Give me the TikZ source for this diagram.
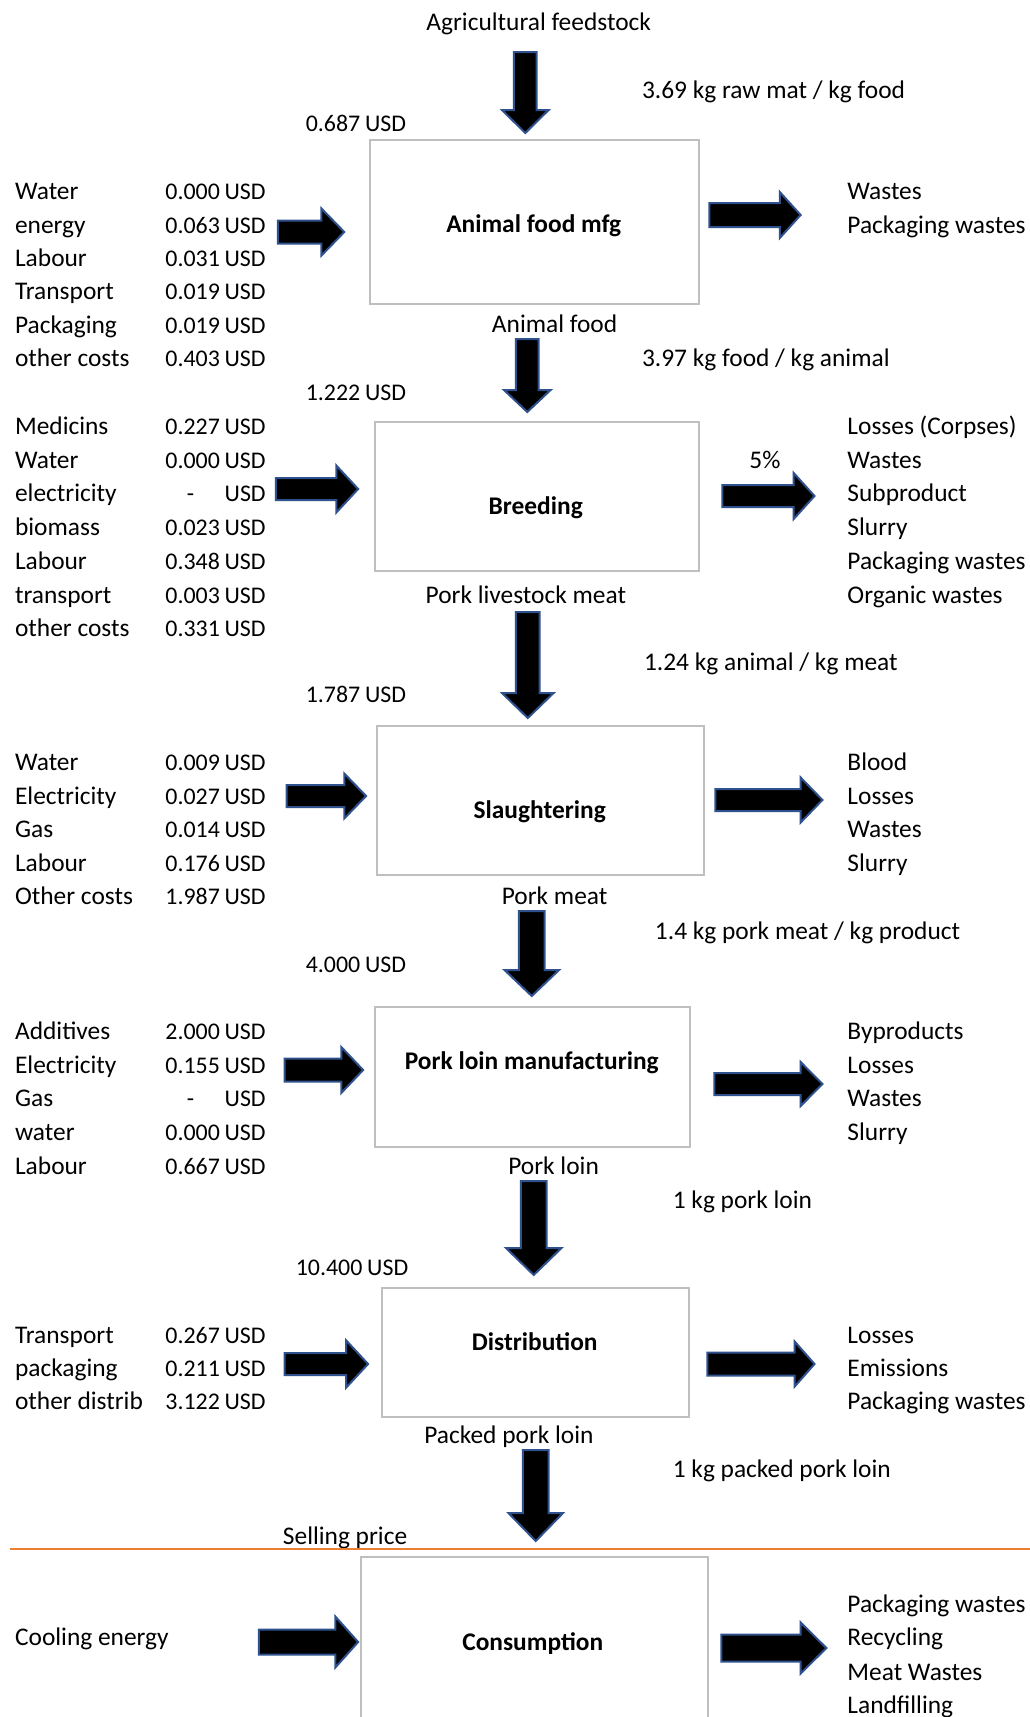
\documentclass[tikz,border=0pt]{standalone}
\usepackage{fontspec}
\setmainfont{Carlito}
\definecolor{boxgray}{HTML}{BFBFBF}
\definecolor{arrowblue}{HTML}{2F528F}
\definecolor{lineorange}{HTML}{ED7D31}
\tikzset{
  lbl/.style={inner sep=0pt, text height=16pt, text depth=0pt, font=\fontsize{25.4}{30}\selectfont},
  val/.style={inner sep=0pt, text height=16pt, text depth=0pt, font=\fontsize{23.9}{30}\selectfont},
  ttl/.style={inner sep=0pt, text height=16pt, text depth=0pt, font=\fontsize{25.4}{30}\selectfont\bfseries},
  procbox/.style={draw=boxgray, line width=2pt, fill=white, inner sep=0pt, anchor=north west},
  blk/.style={fill=black, draw=arrowblue, line width=2pt, line join=miter},
}
\newcommand\hblockarrow[6]{\filldraw[blk] (#1,#4-#5) -- (#2,#4-#5) -- (#2,#4-#6) -- (#3,#4) -- (#2,#4+#6) -- (#2,#4+#5) -- (#1,#4+#5) -- cycle;}
\newcommand\vblockarrow[6]{\filldraw[blk] (#1-#5,#2) -- (#1-#5,#3) -- (#1-#6,#3) -- (#1,#4) -- (#1+#6,#3) -- (#1+#5,#3) -- (#1+#5,#2) -- cycle;}
\newcommand\usd[1]{#1\hspace{0.2em}USD}
\begin{document}
\begin{tikzpicture}[x=0.9921pt,y=-1pt]
\useasboundingbox (0,0) rectangle (1038.2,1717);
\clip (0,0) rectangle (1038.2,1717);
\fill[white] (0,0) rectangle (1038.2,1717);

% process boxes
\node[procbox, minimum width=328.9pt, minimum height=164pt] (b1) at (372,139) {};
\node[procbox, minimum width=324pt, minimum height=149pt] (b2) at (377,421) {};
\node[procbox, minimum width=327.4pt, minimum height=149pt] (b3) at (379,725) {};
\node[procbox, minimum width=314.5pt, minimum height=140pt] (b4) at (377,1006) {};
\node[procbox, minimum width=307.5pt, minimum height=129pt] (b5) at (384,1287) {};
\node[procbox, minimum width=347.2pt, minimum height=200pt] (b6) at (363,1556) {};

\node[ttl] (t1) at (538,224) {Animal food mfg};
\node[ttl] (t2) at (540,506) {Breeding};
\node[ttl] (t3) at (544,810) {Slaughtering};
\node[ttl] (t4) at (536,1061) {Pork loin manufacturing};
\node[ttl] (t5) at (539,1342) {Distribution};
\node[ttl] (t6) at (537,1642) {Consumption};

% vertical flow arrows
\vblockarrow{529.5}{52}{110}{133}{11.5}{23.5}
\vblockarrow{531.5}{339}{390}{412}{11.5}{23.5}
\vblockarrow{532}{612}{693}{718}{12}{26}
\vblockarrow{536}{911}{970}{996}{13}{27.5}
\vblockarrow{538}{1181}{1248}{1275}{13}{28}
\vblockarrow{540}{1450}{1513}{1541}{13}{27.5}

% horizontal input/output arrows
\hblockarrow{280}{324}{347}{232}{11.5}{23.5}
\hblockarrow{715}{786}{807}{215}{12}{23}
\hblockarrow{278}{339}{361}{489}{11}{23.5}
\hblockarrow{728}{800}{821}{496}{11}{23}
\hblockarrow{289}{347}{369}{796}{11}{22.5}
\hblockarrow{721}{807}{829}{800}{11}{22.5}
\hblockarrow{287}{344}{366}{1070}{11.5}{23}
\hblockarrow{720}{807}{829}{1084}{11}{22}
\hblockarrow{287}{349}{371}{1364}{11}{23.5}
\hblockarrow{713}{801}{821}{1364}{11.5}{22.5}
\hblockarrow{261}{338}{361}{1642}{12.5}{25.5}
\hblockarrow{727}{807}{833}{1648}{13.5}{25.5}

% flow labels
\node[lbl] (agri) at (543,22) {Agricultural feedstock};
\node[lbl, anchor=west] (r1) at (647,90) {3.69 kg raw mat / kg food};
\node[val, anchor=west] (c1) at (308,123) {\usd{0.687}};
\node[lbl] (f1) at (559,324) {Animal food};
\node[lbl, anchor=west] (r2) at (647,358) {3.97 kg food / kg animal};
\node[val, anchor=west] (c2) at (308,392) {\usd{1.222}};
\node[lbl] (pct) at (771,460) {5\%};
\node[lbl] (f2) at (530,595) {Pork livestock meat};
\node[lbl, anchor=west] (r3) at (649,662) {1.24 kg animal / kg meat};
\node[val, anchor=west] (c3) at (308,694) {\usd{1.787}};
\node[lbl] (f3) at (559,896) {Pork meat};
\node[lbl, anchor=west] (r4) at (660,931) {1.4 kg pork meat / kg product};
\node[val, anchor=west] (c4) at (308,964) {\usd{4.000}};
\node[lbl] (f4) at (558,1166) {Pork loin};
\node[lbl, anchor=west] (r5) at (678,1200) {1 kg pork loin};
\node[val, anchor=west] (c5) at (298,1267) {\usd{10.400}};
\node[lbl] (f5) at (513,1435) {Packed pork loin};
\node[lbl, anchor=west] (r6) at (678,1469) {1 kg packed pork loin};
\node[lbl, anchor=west] (c6) at (285,1536) {Selling price};
\draw[lineorange, line width=1.5pt] (10,1549) -- (1038.2,1549);

% group 1
\foreach \n/\v/\y [count=\i] in {Water/0.000/191, energy/0.063/225, Labour/0.031/258, Transport/0.019/291, Packaging/0.019/325, {other costs}/0.403/358}{
  \node[lbl, anchor=west] (ga\i) at (15,\y) {\n};
  \node[val, anchor=east] (gav\i) at (268,\y) {\usd{\v}};}
\foreach \n/\y [count=\i] in {Wastes/191, {Packaging wastes}/225}{
  \node[lbl, anchor=west] (oa\i) at (854,\y) {\n};}

% group 2
\foreach \n/\v/\y [count=\i] in {Medicins/0.227/426, Water/0.000/460, biomass/0.023/527, Labour/0.348/561, transport/0.003/595, {other costs}/0.331/628}{
  \node[lbl, anchor=west] (gb\i) at (15,\y) {\n};
  \node[val, anchor=east] (gbv\i) at (268,\y) {\usd{\v}};}
\node[lbl, anchor=west] (gbe) at (15,493) {electricity};
\node[val] (gbed) at (192,493) {-};
\node[val, anchor=east] (gbeu) at (268,493) {USD};
\foreach \n/\y [count=\i] in {{Losses (Corpses)}/426, Wastes/460, Subproduct/493, Slurry/527, {Packaging wastes}/561, {Organic wastes}/595}{
  \node[lbl, anchor=west] (ob\i) at (854,\y) {\n};}

% group 3
\foreach \n/\v/\y [count=\i] in {Water/0.009/762, Electricity/0.027/796, Gas/0.014/829, Labour/0.176/863, {Other costs}/1.987/896}{
  \node[lbl, anchor=west] (gc\i) at (15,\y) {\n};
  \node[val, anchor=east] (gcv\i) at (268,\y) {\usd{\v}};}
\foreach \n/\y [count=\i] in {Blood/762, Losses/796, Wastes/829, Slurry/863}{
  \node[lbl, anchor=west] (oc\i) at (854,\y) {\n};}

% group 4
\foreach \n/\v/\y [count=\i] in {Additives/2.000/1031, Electricity/0.155/1065, water/0.000/1132, Labour/0.667/1166}{
  \node[lbl, anchor=west] (gd\i) at (15,\y) {\n};
  \node[val, anchor=east] (gdv\i) at (268,\y) {\usd{\v}};}
\node[lbl, anchor=west] (gdg) at (15,1098) {Gas};
\node[val] (gdgd) at (192,1098) {-};
\node[val, anchor=east] (gdgu) at (268,1098) {USD};
\foreach \n/\y [count=\i] in {Byproducts/1031, Losses/1065, Wastes/1098, Slurry/1132}{
  \node[lbl, anchor=west] (od\i) at (854,\y) {\n};}

% group 5
\foreach \n/\v/\y [count=\i] in {Transport/0.267/1335, packaging/0.211/1368, {other distrib}/3.122/1401}{
  \node[lbl, anchor=west] (ge\i) at (15,\y) {\n};
  \node[val, anchor=east] (gev\i) at (268,\y) {\usd{\v}};}
\foreach \n/\y [count=\i] in {Losses/1335, Emissions/1368, {Packaging wastes}/1401}{
  \node[lbl, anchor=west] (oe\i) at (854,\y) {\n};}

% group 6
\node[lbl, anchor=west] (gf1) at (15,1637) {Cooling energy};
\foreach \n/\y [count=\i] in {{Packaging wastes}/1604, Recycling/1637, {Meat Wastes}/1672, Landfilling/1705}{
  \node[lbl, anchor=west] (of\i) at (854,\y) {\n};}
\end{tikzpicture}
\end{document}
